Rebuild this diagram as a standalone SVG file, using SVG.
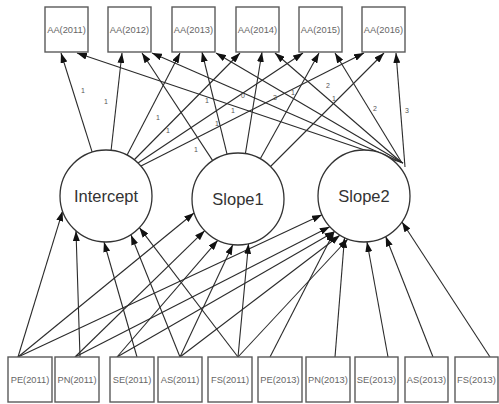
<svg xmlns="http://www.w3.org/2000/svg" width="499" height="404" viewBox="0 0 499 404">
<style>
.e{stroke:#2b2b2b;stroke-width:1.1;fill:none;marker-end:url(#ah)}
.box{fill:#fff;stroke:#5a5a5a;stroke-width:1.4}
.lat{fill:#fff;stroke:#333;stroke-width:1.3}
.bt{font-family:"Liberation Sans",Arial,sans-serif;font-size:9.3px;fill:#666;text-anchor:middle}
.lt{font-family:"Liberation Sans",Arial,sans-serif;font-size:16.5px;fill:#333;text-anchor:middle}
.el{font-family:"Liberation Sans",Arial,sans-serif;font-size:7px;fill:#555;text-anchor:middle}
</style>
<defs>
<marker id="ah" markerUnits="userSpaceOnUse" markerWidth="10" markerHeight="7" refX="10" refY="3.5" orient="auto">
<path d="M0,0 L10,3.5 L0,7 z" fill="#111"/>
</marker>
</defs>
<rect width="499" height="404" fill="#fff"/>
<g id="connectors">
<line class="e" x1="92.2" y1="152.1" x2="61" y2="53"/>
<line class="e" x1="111.1" y1="150.3" x2="122" y2="53"/>
<line class="e" x1="127.1" y1="155.1" x2="180" y2="53"/>
<line class="e" x1="134" y1="160" x2="240" y2="53"/>
<line class="e" x1="138" y1="163" x2="303" y2="53"/>
<line class="e" x1="141" y1="166" x2="364" y2="53"/>
<line class="e" x1="212.7" y1="160.6" x2="142" y2="53"/>
<line class="e" x1="227.1" y1="154.3" x2="202" y2="52"/>
<line class="e" x1="245.4" y1="153.6" x2="262" y2="52"/>
<line class="e" x1="260.3" y1="158.8" x2="319" y2="53"/>
<line class="e" x1="270.5" y1="166.5" x2="384" y2="53"/>
<line class="e" x1="403" y1="163" x2="77" y2="53"/>
<line class="e" x1="403" y1="163" x2="152" y2="53"/>
<line class="e" x1="403" y1="163" x2="216" y2="53"/>
<line class="e" x1="401" y1="162" x2="275" y2="53"/>
<line class="e" x1="402" y1="163" x2="335" y2="53"/>
<line class="e" x1="405" y1="167" x2="396" y2="53"/>
<line class="e" x1="18" y1="357" x2="62.6" y2="211.1"/>
<line class="e" x1="18" y1="357" x2="194" y2="213"/>
<line class="e" x1="18" y1="357" x2="322" y2="214.8"/>
<line class="e" x1="80" y1="357" x2="76" y2="231"/>
<line class="e" x1="75" y1="357" x2="204.7" y2="230.7"/>
<line class="e" x1="75" y1="357" x2="329.8" y2="226.7"/>
<line class="e" x1="137" y1="357" x2="104" y2="242"/>
<line class="e" x1="117" y1="357" x2="217.8" y2="240.3"/>
<line class="e" x1="117" y1="357" x2="334.7" y2="231.5"/>
<line class="e" x1="180" y1="357" x2="131" y2="235"/>
<line class="e" x1="180" y1="357" x2="232.8" y2="244.7"/>
<line class="e" x1="180" y1="357" x2="339.9" y2="235.2"/>
<line class="e" x1="238" y1="357" x2="139.4" y2="227.7"/>
<line class="e" x1="238" y1="357" x2="248.5" y2="243.8"/>
<line class="e" x1="238" y1="357" x2="347.9" y2="239"/>
<line class="e" x1="270" y1="357" x2="334" y2="232"/>
<line class="e" x1="335" y1="357" x2="344.5" y2="237.7"/>
<line class="e" x1="388" y1="357" x2="367" y2="242"/>
<line class="e" x1="433" y1="357" x2="385.7" y2="236.5"/>
<line class="e" x1="490" y1="357" x2="402" y2="222"/>
<text class="el" x="83" y="93">1</text>
<text class="el" x="106" y="104">1</text>
<text class="el" x="158" y="120">1</text>
<text class="el" x="207" y="103">1</text>
<text class="el" x="217" y="126">1</text>
<text class="el" x="168" y="133">1</text>
<text class="el" x="196" y="152">1</text>
<text class="el" x="233" y="113">1</text>
<text class="el" x="243" y="98">0</text>
<text class="el" x="275" y="100">3</text>
<text class="el" x="293" y="95">1</text>
<text class="el" x="328" y="88">2</text>
<text class="el" x="334" y="101">1</text>
<text class="el" x="375" y="111">2</text>
<text class="el" x="407" y="113">3</text>
</g>
<g id="Intercept"><circle class="lat" cx="106" cy="196" r="46"/><text class="lt" x="106" y="202">Intercept</text></g>
<g id="Slope1"><circle class="lat" cx="238" cy="199" r="46"/><text class="lt" x="238" y="205">Slope1</text></g>
<g id="Slope2"><circle class="lat" cx="364" cy="196" r="46"/><text class="lt" x="364" y="202">Slope2</text></g>
<g id="AA2011"><rect class="box" x="45" y="7" width="43" height="45"/><text class="bt" x="66.5" y="33">AA(2011)</text></g>
<g id="AA2012"><rect class="box" x="108" y="7" width="43" height="45"/><text class="bt" x="129.5" y="33">AA(2012)</text></g>
<g id="AA2013"><rect class="box" x="172" y="7" width="43" height="45"/><text class="bt" x="193.5" y="33">AA(2013)</text></g>
<g id="AA2014"><rect class="box" x="236" y="7" width="43" height="45"/><text class="bt" x="257.5" y="33">AA(2014)</text></g>
<g id="AA2015"><rect class="box" x="299" y="7" width="43" height="45"/><text class="bt" x="320.5" y="33">AA(2015)</text></g>
<g id="AA2016"><rect class="box" x="362" y="7" width="43" height="45"/><text class="bt" x="383.5" y="33">AA(2016)</text></g>
<g id="PE2011"><rect class="box" x="8" y="357" width="44" height="45"/><text class="bt" x="30" y="383">PE(2011)</text></g>
<g id="PN2011"><rect class="box" x="55" y="357" width="44" height="45"/><text class="bt" x="77" y="383">PN(2011)</text></g>
<g id="SE2011"><rect class="box" x="110" y="357" width="44" height="45"/><text class="bt" x="132" y="383">SE(2011)</text></g>
<g id="AS2011"><rect class="box" x="158" y="357" width="44" height="45"/><text class="bt" x="180" y="383">AS(2011)</text></g>
<g id="FS2011"><rect class="box" x="208" y="357" width="44" height="45"/><text class="bt" x="230" y="383">FS(2011)</text></g>
<g id="PE2013"><rect class="box" x="258" y="357" width="44" height="45"/><text class="bt" x="280" y="383">PE(2013)</text></g>
<g id="PN2013"><rect class="box" x="306" y="357" width="44" height="45"/><text class="bt" x="328" y="383">PN(2013)</text></g>
<g id="SE2013"><rect class="box" x="355" y="357" width="43" height="45"/><text class="bt" x="376.5" y="383">SE(2013)</text></g>
<g id="AS2013"><rect class="box" x="405" y="357" width="43" height="45"/><text class="bt" x="426.5" y="383">AS(2013)</text></g>
<g id="FS2013"><rect class="box" x="455" y="357" width="43" height="45"/><text class="bt" x="476.5" y="383">FS(2013)</text></g>
</svg>
